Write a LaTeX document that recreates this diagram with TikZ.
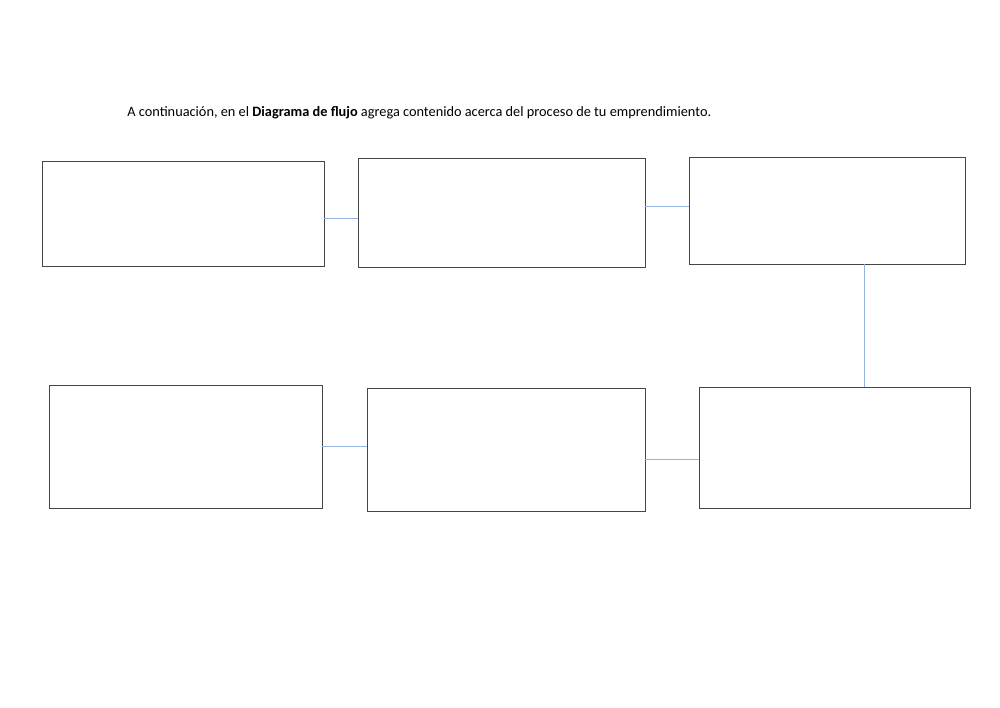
\documentclass[tikz,border=0pt]{standalone}
\usepackage{fontspec}
\setmainfont{Carlito}
\definecolor{linkblue}{RGB}{150,178,225}
\definecolor{boxgray}{RGB}{70,70,70}
\tikzset{
  stage/.style={draw=boxgray, line width=0.5pt, inner sep=0pt, outer sep=0pt},
  link/.style={draw=linkblue, line width=0.5pt}
}
\begin{document}
\begin{tikzpicture}
   \useasboundingbox (0,0) rectangle (20,-14.14);
   \node[anchor=base west, inner sep=0pt, font=\fontsize{8.15}{10}\selectfont] (title) at (2.54,-2.33)
     {A continuación, en el \textbf{Diagrama de flujo} agrega contenido acerca del proceso de tu emprendimiento.};

   % top row
   \node[stage, minimum width=5.64cm, minimum height=2.10cm] (s1) at (3.66,-4.27) {};
   \node[stage, minimum width=5.74cm, minimum height=2.18cm] (s2) at (10.03,-4.25) {};
   \node[stage, minimum width=5.52cm, minimum height=2.14cm] (s3) at (16.54,-4.21) {};
   % bottom row
   \node[stage, minimum width=5.46cm, minimum height=2.46cm] (s4) at (3.71,-8.93) {};
   \node[stage, minimum width=5.56cm, minimum height=2.46cm] (s5) at (10.12,-8.99) {};
   \node[stage, minimum width=5.42cm, minimum height=2.42cm] (s6) at (16.69,-8.95) {};

   \draw[link] (s1.east |- 0,-4.36) -- (s2.west |- 0,-4.36);
   \draw[link] (s2.east |- 0,-4.12) -- (s3.west |- 0,-4.12);
   \draw[link] (s3.south -| 17.28,0) -- (s6.north -| 17.28,0);
   \draw[link] (s6.west |- 0,-9.18) -- (s5.east |- 0,-9.18);
   \draw[link] (s5.west |- 0,-8.93) -- (s4.east |- 0,-8.93);
\end{tikzpicture}
\end{document}
